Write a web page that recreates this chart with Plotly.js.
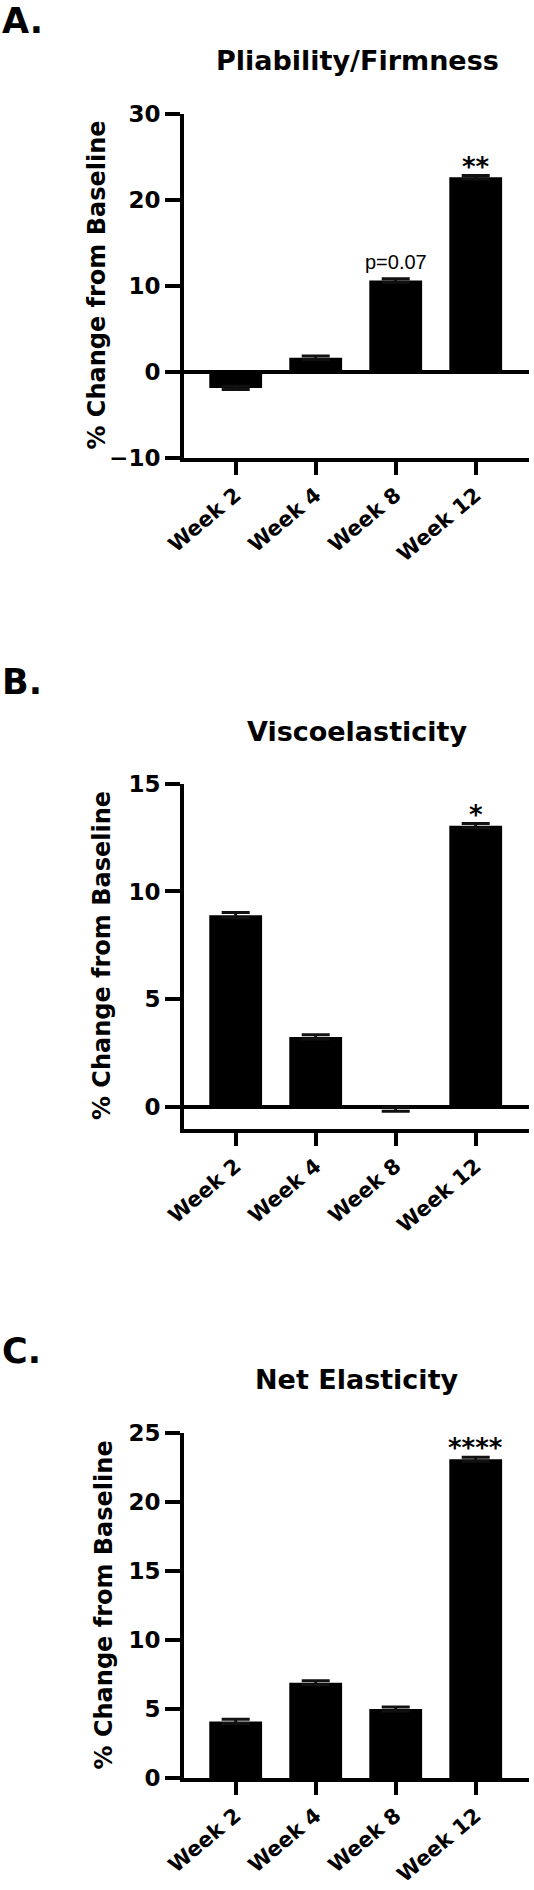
<!DOCTYPE html>
<html>
<head>
<meta charset="utf-8">
<script src="https://cdn.plot.ly/plotly-3.0.1.min.js"></script>
<style>
  html, body { margin: 0; padding: 0; background: #ffffff; }
  #chart { width: 534px; height: 1890px; }
</style>
</head>
<body>
<div id="chart"></div>
<script>
// ---- data ----
const weeks = ['Week 2', 'Week 4', 'Week 8', 'Week 12'];

const pliabilityChange = [-1.9, 1.6, 10.6, 22.6];
const pliabilityErr = [0.2, 0.2, 0.2, 0.2];
const pliabilitySig = ['', '', 'p=0.07', '**'];

const viscoChange = [8.9, 3.25, -0.1, 13.05];
const viscoErr = [0.12, 0.1, 0.1, 0.1];
const viscoSig = ['', '', '', '*'];

const netElasticChange = [4.1, 6.9, 5.0, 23.1];
const netElasticErr = [0.15, 0.15, 0.15, 0.15];
const netElasticSig = ['', '', '', '****'];

const panelLetters = ['A.', 'B.', 'C.'];
const panelTitles = ['Pliability/Firmness', 'Viscoelasticity', 'Net Elasticity'];
const yTitle = '% Change from Baseline';
const yRanges = [[-10, 30], [-1, 15], [0, 25]];
const yDticks = [10, 5, 5];

// ---- layout helpers ----
const H = 1890, W = 534;
const py = v => 1 - v / H;   // pixel row -> paper y
const px = v => v / W;       // pixel col -> paper x

const BOLD = 'DejaVu Sans';
const black = '#000000';

const xDomain = [px(184), px(529)];
const yDomains = [
  [py(457.5), py(113.7)],
  [py(1128.5), py(783.7)],
  [py(1778), py(1433)]
];

const panels = [
  {vals: pliabilityChange, err: pliabilityErr, sig: pliabilitySig},
  {vals: viscoChange, err: viscoErr, sig: viscoSig},
  {vals: netElasticChange, err: netElasticErr, sig: netElasticSig}
];

const data = [];
const layout = {
  width: W, height: H,
  margin: {l: 0, r: 0, t: 0, b: 0},
  paper_bgcolor: '#ffffff',
  plot_bgcolor: '#ffffff',
  showlegend: false,
  font: {family: BOLD, color: black},
  annotations: []
};

const letterY = [21, 682, 1351];
const titleY = [60, 731, 1379];
const yTitleX = [97, 102, 103];

panels.forEach((p, i) => {
  const n = i === 0 ? '' : String(i + 1);
  const xa = 'x' + n, ya = 'y' + n;
  data.push({
    type: 'bar',
    x: weeks,
    y: p.vals,
    xaxis: xa, yaxis: ya,
    marker: {color: black, line: {width: 0}},
    width: 0.66,
    error_y: {type: 'data', array: p.err, visible: true, symmetric: true,
              color: '#111111', thickness: 3, width: 14},
    hoverinfo: 'skip'
  });

  layout['xaxis' + n] = {
    domain: xDomain,
    anchor: ya,
    type: 'category',
    range: [-0.646, 3.666],
    showline: true, linewidth: 4, linecolor: black,
    ticks: 'outside', ticklen: 13, tickwidth: 4, tickcolor: black,
    tickangle: -40,
    tickfont: {family: BOLD, size: 21, weight: 'bold', color: black},
    showgrid: false, zeroline: false, fixedrange: true
  };
  layout['yaxis' + n] = {
    domain: yDomains[i],
    anchor: xa,
    range: yRanges[i],
    tick0: 0, dtick: yDticks[i],
    showline: true, linewidth: 4, linecolor: black,
    ticks: 'outside', ticklen: 15, tickwidth: 4, tickcolor: black,
    tickfont: {family: BOLD, size: 23, weight: 'bold', color: black},
    showgrid: false,
    zeroline: i !== 2, zerolinewidth: 4, zerolinecolor: black,
    fixedrange: true
  };

  // panel letter
  layout.annotations.push({
    text: panelLetters[i], xref: 'paper', yref: 'paper',
    x: 0, y: py(letterY[i]), xanchor: 'left', yanchor: 'middle',
    showarrow: false, font: {family: BOLD, size: 35, weight: 'bold', color: black}
  });
  // panel title
  layout.annotations.push({
    text: panelTitles[i], xref: 'paper', yref: 'paper',
    x: px(357), y: py(titleY[i]), xanchor: 'center', yanchor: 'middle',
    showarrow: false, font: {family: BOLD, size: 27, weight: 'bold', color: black}
  });
  // y title
  layout.annotations.push({
    text: yTitle, xref: 'paper', yref: 'paper', textangle: -90,
    x: px(yTitleX[i]), y: (yDomains[i][0] + yDomains[i][1]) / 2,
    xanchor: 'center', yanchor: 'middle',
    showarrow: false, font: {family: BOLD, size: 24, weight: 'bold', color: black}
  });
  // significance labels
  p.sig.forEach((s, k) => {
    if (!s) return;
    const isP = s.startsWith('p');
    layout.annotations.push({
      text: s, xref: xa, yref: ya,
      x: weeks[k], y: p.vals[k] + p.err[k],
      xanchor: 'center', yanchor: 'bottom',
      yshift: isP ? 4 : -8,
      showarrow: false,
      font: isP ? {family: 'Liberation Sans', size: 20, color: black}
                : {family: BOLD, size: 26, weight: 'bold', color: black}
    });
  });
});

Plotly.newPlot('chart', data, layout, {staticPlot: true, displayModeBar: false});
</script>
</body>
</html>
